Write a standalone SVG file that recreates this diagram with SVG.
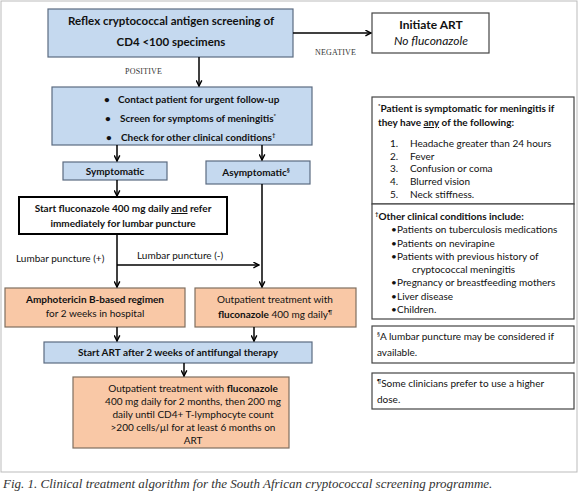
<svg xmlns="http://www.w3.org/2000/svg" width="579" height="496" viewBox="0 0 579 496">
<defs>
<marker id="ah" viewBox="0 0 10 10" refX="9" refY="5" markerWidth="7" markerHeight="7" orient="auto" markerUnits="userSpaceOnUse">
<path d="M1,1 L9,5 L1,9" fill="none" stroke="#000" stroke-width="2"/>
</marker>
<style>
text{font-family:Lato,"Liberation Sans",sans-serif;fill:#111;}
.t{font-size:10px;}
.b{font-weight:bold;}
.c{text-anchor:middle;}
.blue{fill:#c5d9ef;stroke:#5b6b80;stroke-width:1.2;}
.peach{fill:#f9c8a6;stroke:#7f6f60;stroke-width:1.2;}
.white{fill:#fff;stroke:#444;stroke-width:1.2;}
.con line,.con path{stroke:#000;stroke-width:1.5;fill:none;}
.lab{font-family:"Liberation Serif",serif;font-size:8px;letter-spacing:0.2px;fill:#333;}
.cap{font-family:"Liberation Serif",serif;font-style:italic;font-size:13px;fill:#333;}
.sup{font-size:6px;}
</style>
</defs>
<rect x="1" y="1" width="576" height="471" fill="#fff" stroke="#bbb" stroke-width="1"/>

<g id="screening">
<rect class="blue" x="48" y="9" width="245" height="48"/>
<text class="b c" x="171" y="25" font-size="11.5">Reflex cryptococcal antigen screening of</text>
<text class="b c" x="171" y="46" font-size="11.5">CD4 &lt;100 specimens</text>
</g>

<g id="initiate">
<rect class="white" x="372" y="13" width="117" height="40"/>
<text class="b c" x="431" y="29" font-size="12">Initiate ART</text>
<text class="c" x="431" y="45" font-size="12" font-style="italic">No fluconazole</text>
</g>

<g id="contact">
<rect class="blue" x="52" y="87" width="260" height="58"/>
<text class="b" font-size="10"><tspan x="104" y="103">•</tspan><tspan x="118" y="103">Contact patient for urgent follow-up</tspan></text>
<text class="b" font-size="10"><tspan x="105" y="122">•</tspan><tspan x="120" y="122">Screen for symptoms of meningitis</tspan><tspan class="sup" dy="-4">*</tspan></text>
<text class="b" font-size="10"><tspan x="106" y="141">•</tspan><tspan x="121" y="141">Check for other clinical conditions</tspan><tspan class="sup" dy="-4">†</tspan></text>
</g>

<g id="symptomatic">
<rect class="blue" x="63" y="162" width="104" height="18"/>
<text class="b c t" x="115" y="175">Symptomatic</text>
</g>

<g id="asymptomatic">
<rect class="blue" x="206" y="161" width="104" height="23"/>
<text class="b c t" x="256" y="176">Asymptomatic<tspan class="sup" dy="-4">§</tspan></text>
</g>

<g id="startfluc">
<rect x="19" y="197" width="208" height="37" fill="#fff" stroke="#000" stroke-width="2"/>
<text class="b c t" x="123" y="212">Start fluconazole 400 mg daily <tspan text-decoration="underline">and</tspan> refer</text>
<text class="b c t" x="123" y="227">immediately for lumbar puncture</text>
</g>

<g id="ampho">
<rect class="peach" x="5" y="288" width="180" height="39"/>
<text class="b c t" x="95" y="303">Amphotericin B-based regimen</text>
<text class="c t" x="95" y="317">for 2 weeks in hospital</text>
</g>

<g id="outpatient1">
<rect class="peach" x="195" y="288" width="161" height="39"/>
<text class="c t" x="275" y="303">Outpatient treatment with</text>
<text class="c t" x="275" y="318"><tspan class="b">fluconazole</tspan> 400 mg daily<tspan class="sup" dy="-4">¶</tspan></text>
</g>

<g id="startart">
<rect class="blue" x="44" y="342" width="268" height="21"/>
<text class="b c t" x="178" y="356">Start ART after 2 weeks of antifungal therapy</text>
</g>

<g id="outpatient2">
<rect class="peach" x="73" y="377" width="216" height="71"/>
<text class="c t" x="193" y="392">Outpatient treatment with <tspan class="b">fluconazole</tspan></text>
<text class="c t" x="193" y="405">400 mg daily for 2 months, then 200 mg</text>
<text class="c t" x="193" y="418">daily until CD4+ T-lymphocyte count</text>
<text class="c t" x="193" y="431">&gt;200 cells/µl for at least 6 months on</text>
<text class="c t" x="193" y="444">ART</text>
</g>

<g id="note-symptoms">
<rect class="white" x="372" y="97" width="202" height="107"/>
<text class="b t" x="378" y="112"><tspan class="sup" dy="-4">*</tspan><tspan dy="4">Patient is symptomatic for meningitis if</tspan></text>
<text class="b t" x="378" y="126">they have <tspan text-decoration="underline">any</tspan> of the following:</text>
<text class="t"><tspan x="390" y="147">1.</tspan><tspan x="410">Headache greater than 24 hours</tspan></text>
<text class="t"><tspan x="390" y="160">2.</tspan><tspan x="410">Fever</tspan></text>
<text class="t"><tspan x="390" y="172">3.</tspan><tspan x="410">Confusion or coma</tspan></text>
<text class="t"><tspan x="390" y="185">4.</tspan><tspan x="410">Blurred vision</tspan></text>
<text class="t"><tspan x="390" y="198">5.</tspan><tspan x="410">Neck stiffness.</tspan></text>
</g>

<g id="note-conditions">
<rect class="white" x="372" y="204" width="202" height="115"/>
<text class="b t" x="375" y="220"><tspan class="sup" dy="-4">†</tspan><tspan dy="4">Other clinical conditions include:</tspan></text>
<text class="t"><tspan x="391" y="233">•</tspan><tspan x="397">Patients on tuberculosis medications</tspan></text>
<text class="t"><tspan x="391" y="247">•</tspan><tspan x="397">Patients on nevirapine</tspan></text>
<text class="t"><tspan x="391" y="260">•</tspan><tspan x="397">Patients with previous history of</tspan></text>
<text class="t" x="412" y="273">cryptococcal meningitis</text>
<text class="t"><tspan x="391" y="286">•</tspan><tspan x="397">Pregnancy or breastfeeding mothers</tspan></text>
<text class="t"><tspan x="391" y="300">•</tspan><tspan x="397">Liver disease</tspan></text>
<text class="t"><tspan x="391" y="313">•</tspan><tspan x="397">Children.</tspan></text>
</g>

<g id="note-lumbar">
<rect class="white" x="372" y="326" width="202" height="37"/>
<text class="t" x="377" y="340"><tspan class="sup" dy="-4">§</tspan><tspan dy="4">A lumbar puncture may be considered if</tspan></text>
<text class="t" x="377" y="356">available.</text>
</g>

<g id="note-dose">
<rect class="white" x="372" y="373" width="202" height="36"/>
<text class="t" x="377" y="387"><tspan class="sup" dy="-4">¶</tspan><tspan dy="4">Some clinicians prefer to use a higher</tspan></text>
<text class="t" x="377" y="403">dose.</text>
</g>

<g id="connectors" class="con">
<line x1="199" y1="57" x2="199" y2="86" marker-end="url(#ah)"/>
<line x1="293" y1="33" x2="371" y2="33" marker-end="url(#ah)"/>
<line x1="117" y1="145" x2="117" y2="161" marker-end="url(#ah)"/>
<line x1="262" y1="145" x2="262" y2="160" marker-end="url(#ah)"/>
<line x1="117" y1="180" x2="117" y2="196" marker-end="url(#ah)"/>
<line x1="117" y1="234" x2="117" y2="287" marker-end="url(#ah)"/>
<line x1="117" y1="265" x2="259" y2="265" marker-end="url(#ah)"/>
<line x1="262" y1="184" x2="262" y2="287" marker-end="url(#ah)"/>
<line x1="117" y1="327" x2="117" y2="341" marker-end="url(#ah)"/>
<line x1="254" y1="327" x2="254" y2="341" marker-end="url(#ah)"/>
<line x1="184" y1="363" x2="184" y2="376" marker-end="url(#ah)"/>
</g>

<text class="lab" x="125" y="74">POSITIVE</text>
<text class="lab" x="315" y="55">NEGATIVE</text>
<text class="t" x="16" y="262">Lumbar puncture (+)</text>
<text class="t" x="137" y="259">Lumbar puncture (-)</text>

<text class="cap" x="3" y="488">Fig. 1. Clinical treatment algorithm for the South African cryptococcal screening programme.</text>
</svg>
